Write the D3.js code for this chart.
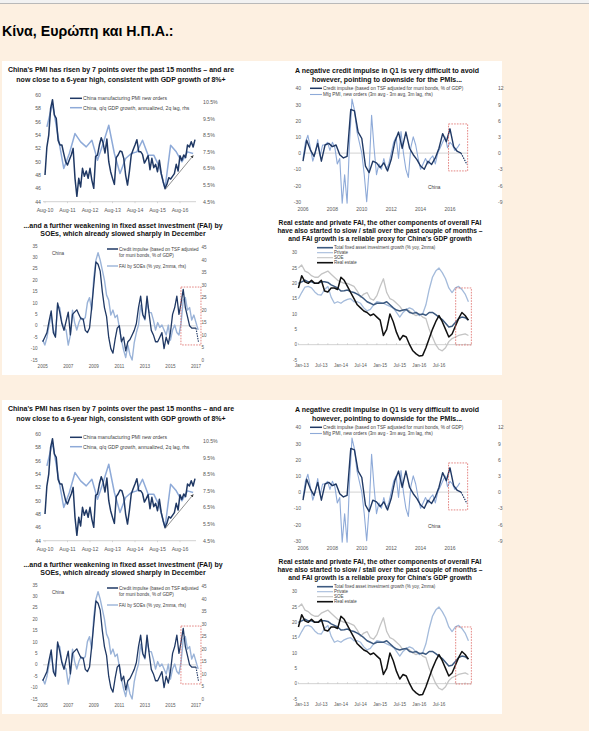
<!DOCTYPE html>
<html><head><meta charset="utf-8">
<script src="https://cdn.jsdelivr.net/npm/d3@7"></script>
<style>
html,body{margin:0;padding:0;background:#fdf0e1;overflow:hidden;}
svg{display:block;}
text{font-family:"Liberation Sans",Arial,sans-serif;}
</style></head><body>
<svg id="c" width="589" height="731"></svg>
<script>
// ---------- DATA ----------
const pageTitle = "Κίνα, Ευρώπη και Η.Π.Α.:";

// Chart A: monthly from Aug-10
const titleA = ["China's PMI has risen by 7 points over the past 15 months – and are","now close to a 6-year high, consistent with GDP growth of 8%+"];
const tickLabelsA = ["Aug-10","Aug-11","Aug-12","Aug-13","Aug-14","Aug-15","Aug-16"];
const legendA = ["China manufacturing PMI new orders","China, q/q GDP growth, annualized, 2q lag, rhs"];
const pmiNewOrders = [48,52.2,54,58,59.3,57,56.5,53.2,52.5,52.5,51.2,50,49.5,50.3,51,52,47.5,44.8,47.5,46.2,49,47.8,48.6,47.5,49,47.2,46,50.8,51,52.5,53.6,52.8,51.3,53.4,50,48.5,47.5,46.6,50.6,51,51.6,51.5,50.5,48,46.5,48.5,51,51.8,52.5,53.3,51.5,51.5,51.1,49.8,50.3,50.9,48.8,50.5,49.1,49.6,48.5,50.2,48.2,47,46,46.6,47.6,47.4,47.8,48.2,49.6,48.6,50.9,50.2,51,50.6,52.5,52.2,53,52.2,53.3];
const gdpLag = [9.0,10.4,8.4,6.5,7.4,8.6,8.1,7.8,8.2,7.0,8.0,9.1,7.4,6.2,7.1,7.4,7.5,8.2,7.3,7.3,6.6,5.3,7.9,7.5,6.9,7.5,7.4]; // quarterly, from month 1
const leftTicksA = [44,46,48,50,52,54,56,58,60];
const rightTicksA = [4.5,5.5,6.5,7.5,8.5,9.5,10.5];
const arrowA = [[64,45.8],[79,50.9]];

// Chart B
const titleB = ["A negative credit impulse in Q1 is very difficult to avoid","however, pointing to downside for the PMIs..."];
const legendB = ["Credit impulse (based on TSF adjusted for muni bonds, % of GDP)","Mfg PMI, new orders (3m avg - 3m avg, 3m lag, rhs)"];
const yearsB = [2006,2008,2010,2012,2014,2016];
const creditB = [-5,8,2,-2,6,-5,5,6,4,5,-1,-3,-2,27,26,13,9,-8,-12,-5,-6,-9,-6,-11,-4,7,13,3,13,3,-1,-4,-8,-10,-5,-7,-3,3,12,7,15,4,1,0]; // quarterly from 2006
const creditBProj = [[2016.75,0],[2017.15,-7]];
const pmiDiffB = [-1,2,3.3,1,-1.5,0,2.5,-0.5,1.5,1.5,2,0.5,2,1,-2,-1,-9.3,-4,-9.3,2,10,8,4,2,0,-4,-9,-3,7,1,-4,-2,-3,-1,-3,-2,0,2,3,-1,4,0,-3,-4.5,1,3,1.5,-1,-3,-2,-1,-2,-1,-0.5,-2,0,1,2,3,1,2,1.5,0.5,1,1.7]; // bi-monthly from 2006
const leftTicksB = [-30,-20,-10,0,10,20,30,40];
const rightTicksB = [-9,-6,-3,0,3,6,9,12];
const boxB = {x0:2015.9,x1:2017.2,y0:-11,y1:18};

// Chart C
const titleC = ["...and a further weakening in fixed asset investment (FAI) by","SOEs, which already slowed sharply in December"];
const legendC = ["Credit impulse (based on TSF adjusted","for muni bonds, % of GDP)","FAI by SOEs (% yoy, 2mma, rhs)"];
const yearsC = [2005,2007,2009,2011,2013,2015,2017];
const creditC = [-7,-5,-3,2,6.5,-3,-5,10,6,1,-2,2,6,-4,5,6,7,5,3,3,-2,-3,-1,8,18,28,27,24,15,8,4,-5,-10,-12,-6,-1,0,-7,-5,-11,-7,-6,-4,-2,1,8,13,5,3,13,5,-2,-4,-7,-7,-5,-3,-10,-5,-8,-3,5,8,13,5,10,16,8,4,0,-1,-1,-1]; // bi-monthly from 2005
const creditCProj = [[2017.0,-1],[2017.19,-7]];
const faiSOE = [8,6,9,14,18,12,10,22,21,15,13,12,6,10,20,15,12,15,17,16,17,23,25,20,33,40,43,40,36,32,26,24,18,20,17,18,13,8,4,1,6,2,0,7,11,14,22,18,16,23,19,19,16,12,15,13,14,12,10,14,8,12,14,11,10,15,24,25,20,21,16,18,15,12];
const leftTicksC = [-15,-10,-5,0,5,10,15,20,25,30,35];
const rightTicksC = [0,5,10,15,20,25,30,35,40,45];
const boxC = {x0:2015.82,x1:2017.39,y0:-8.4,y1:17};

// Chart D: monthly from Dec-12 (month -1, Jan-13 = 0)
const titleD = ["Real estate and private FAI, the other components of overall FAI","have also started to slow / stall over the past couple of months –","and FAI growth is a reliable proxy for China's GDP growth"];
const tickLabelsD = ["Jan-13","Jul-13","Jan-14","Jul-14","Jan-15","Jul-15","Jan-16","Jul-16"];
const legendD = ["Total fixed asset investment growth (% yoy, 2mma)","Private","SOE","Real estate"];
const faiTotal = [20,20.5,21,20.5,20.5,20,20,20.5,20.5,20.3,19.5,19,18.5,17.5,17.6,17.8,17.3,17,16.5,15.8,15,14,13.5,13,13.5,13.5,13.5,14,13,12,11.3,11,11.3,11.5,10.5,10.2,10.5,9.8,10,9.6,10.5,10.5,9.8,9,8.2,7,5.8,6,7.2,8.5,9,8.8,8];
const faiPrivate = [15,17,18.8,19,18.5,17.2,16.3,16.2,18,19,15.5,13.5,14,13.5,14.3,14.8,15,14,14,13.5,12,11,11.5,13,14,13.8,13.5,13,12.5,12,10.5,9,10.5,11.5,12,11.5,10.3,9.5,10,13,18,22,24,25,23.5,21.5,18.5,17,18.5,19,18,16.5,14];
const faiSOEd = [25,26,24,23.5,22.5,22,22,23,23.5,24,23,22,21,20.5,20,20,19.5,19,17.5,15.5,16.5,17,15,14.5,16,19,21.5,17,15,14.5,13.5,12.5,11,11.5,11,10,9.5,10,9,8.5,5,2.5,0,-1.5,-2,-1,1,2,2.5,3,3.3,3.5,3];
const faiRealEstate = [18.5,22.5,20.5,20,21,20,20,21,17.5,17.2,18.5,18.5,18,22,21,19,17,15,13,12,11,10.5,9.5,10,9,8,3,5,10,7.5,4,1.5,3,2.5,0,-2,-3,-3.7,-3.5,-1,2,5,7.5,9.5,7.5,5,2.5,3.5,6,8.5,10.5,9.5,8];
const leftTicksD = [-5,0,5,10,15,20,25,30];
const boxD = {x0:47.1,x1:51.9,y0:-0.1,y1:18.5};

// ---------- STYLE ----------
const C = {navy:"#1f3864", light:"#8eaad8", axis:"#595959", grid:"#b4b4b4", red:"#d9534f",
  total:"#3d5a80", priv:"#a4bbdb", soe:"#c4c4c4", re:"#111111"};

const svg = d3.select("#c");
svg.append("rect").attr("width",589).attr("height",731).attr("fill","#fdf0e1");
svg.append("rect").attr("width",589).attr("height",3).attr("fill","#f2f2f2");
svg.append("line").attr("x1",0).attr("x2",589).attr("y1",3.5).attr("y2",3.5).attr("stroke","#b9b9b9").attr("stroke-width",1);
svg.append("text").attr("x",2).attr("y",35.5).attr("font-size",14.2).attr("font-weight","bold").attr("fill","#000").text(pageTitle);

const defs = svg.append("defs");
defs.append("marker").attr("id","arr").attr("viewBox","0 0 10 10").attr("refX",8).attr("refY",5)
  .attr("markerWidth",5).attr("markerHeight",5).attr("orient","auto")
  .append("path").attr("d","M0,0L10,5L0,10z").attr("fill","#404040");

function txt(g,x,y,s,size,anchor,opts={}){
  return g.append("text").attr("x",x).attr("y",y).attr("font-size",size)
    .attr("text-anchor",anchor||"start").attr("dominant-baseline","central")
    .attr("fill",opts.fill||C.axis).attr("font-weight",opts.bold?"bold":"normal").text(s);
}
function title(g,lines,cx,ys,fs){
  lines.forEach((l,i)=>txt(g,cx,ys[i],l,fs,"middle",{fill:"#111",bold:true}));
}
function path(g,data,line,color,w,dash){
  const p = g.append("path").datum(data).attr("d",line).attr("fill","none")
    .attr("stroke",color).attr("stroke-width",w).attr("stroke-linejoin","round");
  if(dash) p.attr("stroke-dasharray",dash);
  return p;
}
function box(g,b,xs,ys){
  g.append("rect").attr("x",xs(b.x0)).attr("y",ys(b.y1)).attr("width",xs(b.x1)-xs(b.x0))
    .attr("height",ys(b.y0)-ys(b.y1)).attr("fill","none").attr("stroke",C.red)
    .attr("stroke-width",0.7).attr("stroke-dasharray","1.6,1.2");
}
function legendLine(g,x1,x2,y,color,w){
  g.append("line").attr("x1",x1).attr("x2",x2).attr("y1",y).attr("y2",y).attr("stroke",color).attr("stroke-width",w);
}

function drawPanel(g){
  g.append("rect").attr("x",2).attr("y",61).attr("width",500).attr("height",314).attr("fill","#fff");

  // ---- Chart A ----
  const FA = 5.2, FLA = 5.1;
  title(g,titleA,121,[69,79.5],7.0);
  const xA = d3.scaleLinear().domain([0,72]).range([45,180]);
  const yA = d3.scaleLinear().domain([44,60]).range([201.7,95]);
  const yA2 = d3.scaleLinear().domain([4.5,10.5]).range([201.7,102]);
  g.append("line").attr("x1",43).attr("x2",196).attr("y1",yA(44)).attr("y2",yA(44)).attr("stroke",C.grid).attr("stroke-width",0.6);
  tickLabelsA.forEach((t,i)=>{
    g.append("line").attr("x1",xA(i*12)).attr("x2",xA(i*12)).attr("y1",yA(44)).attr("y2",yA(44)+1.5).attr("stroke",C.grid).attr("stroke-width",0.5);
    txt(g,xA(i*12),210,t,FA,"middle");
  });
  leftTicksA.forEach(v=>txt(g,41,yA(v),String(v),FA,"end"));
  rightTicksA.forEach(v=>txt(g,203,yA2(v),v.toFixed(1)+"%",FA,"start"));
  path(g,gdpLag,d3.line().x((d,i)=>xA(1+3*i)).y(d=>yA2(d)),C.light,1.5);
  path(g,pmiNewOrders,d3.line().x((d,i)=>xA(i)).y(d=>yA(d)),C.navy,1.5);
  g.append("line").attr("x1",xA(arrowA[0][0])).attr("y1",yA(arrowA[0][1]))
    .attr("x2",xA(arrowA[1][0])).attr("y2",yA(arrowA[1][1]))
    .attr("stroke","#404040").attr("stroke-width",0.6).attr("marker-end","url(#arr)");
  legendLine(g,70,82,98.3,C.navy,1.5); txt(g,83,98.3,legendA[0],FLA,"start",{fill:"#404040"});
  legendLine(g,70,82,107.7,C.light,1.5); txt(g,83,107.7,legendA[1],FLA,"start",{fill:"#404040"});

  // ---- Chart B ----
  const FB = 5.0, FLB = 4.75;
  title(g,titleB,387,[70,79.3],7.0);
  const xB = d3.scaleLinear().domain([2006,2016]).range([303,450]);
  const yB = d3.scaleLinear().domain([-30,40]).range([201.7,88.3]);
  const yB2 = d3.scaleLinear().domain([-9,12]).range([201.7,88.3]);
  g.append("line").attr("x1",305).attr("x2",467).attr("y1",yB(0)).attr("y2",yB(0)).attr("stroke",C.grid).attr("stroke-width",0.6);
  leftTicksB.forEach(v=>txt(g,301,yB(v),String(v),FB,"end"));
  rightTicksB.forEach(v=>txt(g,498,yB2(v),String(v),FB,"start"));
  yearsB.forEach(v=>txt(g,xB(v),209,String(v),FB,"middle"));
  path(g,pmiDiffB,d3.line().x((d,i)=>xB(2006+i/6)).y(d=>yB2(d)),C.light,1.1);
  path(g,creditB,d3.line().x((d,i)=>xB(2006+i/4)).y(d=>yB(d)),C.navy,1.4);
  path(g,creditBProj,d3.line().x(d=>xB(d[0])).y(d=>yB(d[1])),C.navy,1.2,"1.5,1");
  box(g,boxB,xB,yB);
  txt(g,428,187,"China",FLB,"start",{fill:"#404040"});
  legendLine(g,310,322,88.3,C.navy,1.5); txt(g,323,88.3,legendB[0],FLB,"start",{fill:"#404040"});
  legendLine(g,310,322,94.5,C.light,1.1); txt(g,323,94.5,legendB[1],FLB,"start",{fill:"#404040"});

  // ---- Chart C ----
  const FC = 4.6, FLC = 4.6;
  title(g,titleC,123,[225,233.3],7.0);
  const xC = d3.scaleLinear().domain([2005,2017]).range([42.7,196]);
  const yC = d3.scaleLinear().domain([-15,35]).range([360,246]);
  const yC2 = d3.scaleLinear().domain([0,45]).range([360,247.7]);
  g.append("line").attr("x1",43).attr("x2",196).attr("y1",yC(0)).attr("y2",yC(0)).attr("stroke",C.grid).attr("stroke-width",0.6);
  leftTicksC.forEach(v=>txt(g,37.5,yC(v),String(v),FC,"end"));
  rightTicksC.forEach(v=>txt(g,201.5,yC2(v),String(v),FC,"start"));
  yearsC.forEach(v=>txt(g,xC(v),366.7,String(v),FC,"middle"));
  path(g,faiSOE,d3.line().x((d,i)=>xC(2005+i/6)).y(d=>yC2(d)),"#9ab3d8",1.4);
  path(g,creditC,d3.line().x((d,i)=>xC(2005+i/6)).y(d=>yC(d)),C.navy,1.3);
  path(g,creditCProj,d3.line().x(d=>xC(d[0])).y(d=>yC(d[1])),C.navy,1.1,"1.5,1");
  box(g,boxC,xC,yC);
  txt(g,52,253,"China",FLC,"start",{fill:"#404040"});
  legendLine(g,107,118,249,C.navy,1.5);
  txt(g,119,249,legendC[0],FLC,"start",{fill:"#404040"});
  txt(g,119,255.5,legendC[1],FLC,"start",{fill:"#404040"});
  legendLine(g,107,118,266,"#9ab3d8",1.4);
  txt(g,119,266,legendC[2],FLC,"start",{fill:"#404040"});

  // ---- Chart D ----
  const FD = 4.6, FLD = 4.5;
  title(g,titleD,380,[222.5,230.5,238.5],6.7);
  const xD = d3.scaleLinear().domain([0,42]).range([301.7,439]);
  const yD = d3.scaleLinear().domain([-5,30]).range([360,252.7]);
  g.append("line").attr("x1",298).attr("x2",472).attr("y1",yD(0)).attr("y2",yD(0)).attr("stroke",C.grid).attr("stroke-width",0.6);
  d3.range(-1,52,3).forEach(m=>g.append("line").attr("x1",xD(m)).attr("x2",xD(m)).attr("y1",yD(0)).attr("y2",yD(0)-1.5).attr("stroke",C.grid).attr("stroke-width",0.5));
  leftTicksD.forEach(v=>txt(g,297,yD(v),String(v),FD,"end"));
  tickLabelsD.forEach((t,i)=>txt(g,xD(i*6),365.7,t,FD,"middle"));
  const lD = d3.line().x((d,i)=>xD(i-1)).y(d=>yD(d));
  path(g,faiSOEd,lD,C.soe,1.3);
  path(g,faiPrivate,lD,C.priv,1.3);
  path(g,faiTotal,lD,C.total,1.5);
  path(g,faiRealEstate,lD,C.re,1.5);
  box(g,boxD,xD,yD);
  const lc = [[C.total,1.6],[C.priv,1.1],[C.soe,1.1],[C.re,1.6]];
  legendD.forEach((t,i)=>{
    const y = 247.7 + i*5;
    legendLine(g,317,333,y,lc[i][0],lc[i][1]);
    txt(g,334,y,t,FLD,"start",{fill:"#404040"});
  });
}

drawPanel(svg.append("g"));
drawPanel(svg.append("g").attr("transform","translate(0,339)"));
</script>
</body></html>
